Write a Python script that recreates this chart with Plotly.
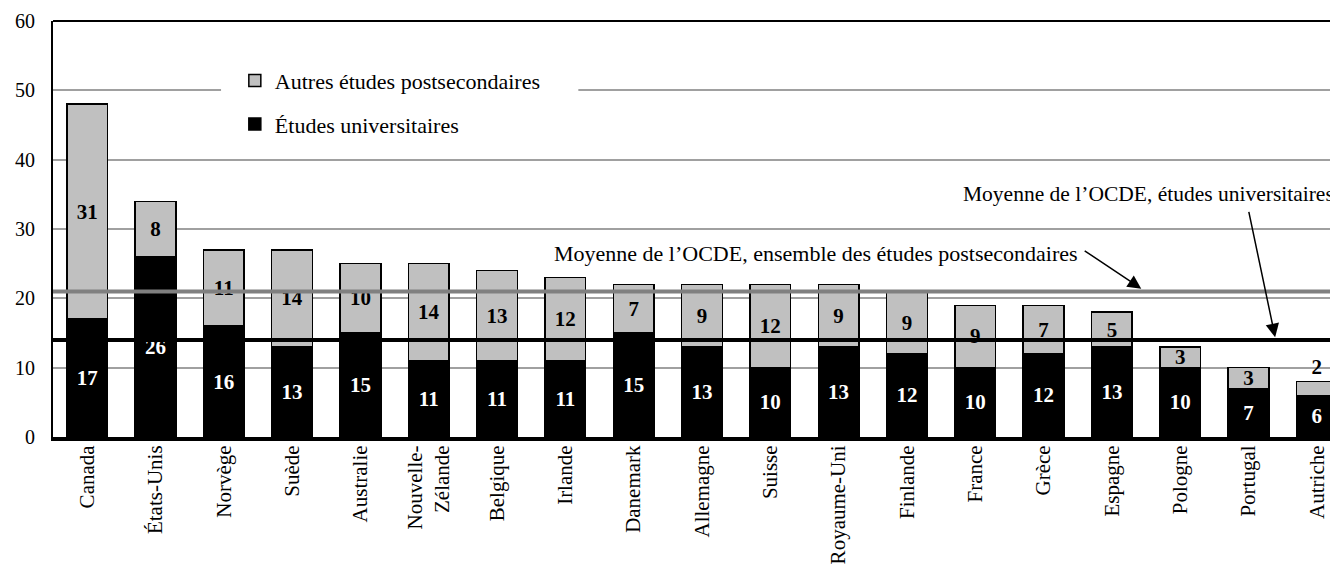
import plotly.graph_objects as go

# Data (percent)
countries = ["Canada", "États-Unis", "Norvège", "Suède", "Australie", "Nouvelle-<br>Zélande",
             "Belgique", "Irlande", "Danemark", "Allemagne", "Suisse", "Royaume-Uni",
             "Finlande", "France", "Grèce", "Espagne", "Pologne", "Portugal", "Autriche"]
univ = [17, 26, 16, 13, 15, 11, 11, 11, 15, 13, 10, 13, 12, 10, 12, 13, 10, 7, 6]
other = [31, 8, 11, 14, 10, 14, 13, 12, 7, 9, 12, 9, 9, 9, 7, 5, 3, 3, 2]
oecd_total = 21
oecd_univ = 14
y_ticks = [0, 10, 20, 30, 40, 50, 60]

SERIF = "Liberation Serif, Times New Roman, serif"

fig = go.Figure()

fig.add_trace(go.Bar(
    name="Études universitaires", x=countries, y=univ,
    marker=dict(color="black", line=dict(color="black", width=1.5)),
    text=[str(v) for v in univ], textposition="inside", insidetextanchor="middle",
    textangle=0,
    textfont=dict(family=SERIF, size=21, color="white", weight="bold"),
    legendgroup="u", legendrank=2, hoverinfo="x+y",
))
fig.add_trace(go.Bar(
    name="Autres études postsecondaires", x=countries, y=other,
    marker=dict(color="#c0c0c0", line=dict(color="black", width=1.5)),
    text=[str(v) for v in other],
    textposition=["inside"] * (len(other) - 1) + ["outside"],
    insidetextanchor="middle", textangle=0,
    textfont=dict(family=SERIF, size=21, color="black", weight="bold"),
    outsidetextfont=dict(family=SERIF, size=21, color="black", weight="bold"),
    legendgroup="a", legendrank=1, hoverinfo="x+y", cliponaxis=False,
))

# white gap behind the legend, OECD average lines, top frame
fig.add_shape(type="rect", xref="x", yref="y", x0=1.96, x1=7.19, y0=45, y1=55,
              fillcolor="white", line_width=0, layer="between")
fig.add_shape(type="line", xref="x domain", yref="y", x0=0, x1=1, y0=oecd_total, y1=oecd_total,
              line=dict(color="#808080", width=4), layer="above")
fig.add_shape(type="line", xref="x domain", yref="y", x0=0, x1=1, y0=oecd_univ, y1=oecd_univ,
              line=dict(color="black", width=4), layer="above")
fig.add_shape(type="line", xref="x domain", yref="y domain", x0=0, x1=1, y0=1, y1=1,
              line=dict(color="black", width=2), layer="above")

fig.add_annotation(text="Moyenne de l’OCDE, ensemble des études postsecondaires",
                   x=14.54, y=26.5, xanchor="right", yanchor="middle", showarrow=False,
                   font=dict(family=SERIF, size=22, color="black"))
fig.add_annotation(text="", x=15.43, y=21.4, ax=14.58, ay=27.0, axref="x", ayref="y",
                   showarrow=True, arrowhead=2, arrowsize=1.8, arrowwidth=1.5,
                   arrowcolor="black", standoff=0)
fig.add_annotation(text="Moyenne de l’OCDE, études universitaires",
                   x=18.28, y=35.0, xanchor="right", yanchor="middle", showarrow=False,
                   font=dict(family=SERIF, size=21.5, color="black"))
fig.add_annotation(text="", x=17.39, y=14.4, ax=17.0, ay=32.7, axref="x", ayref="y",
                   showarrow=True, arrowhead=2, arrowsize=1.8, arrowwidth=1.5,
                   arrowcolor="black", standoff=0)

# the page body has an 8px margin, so the figure is 8px smaller and the margins 8px tighter
fig.update_layout(
    width=1330, height=557,
    margin=dict(l=45, r=0, t=13, b=128, autoexpand=False),
    barmode="stack", bargap=0.404,
    paper_bgcolor="white", plot_bgcolor="white",
    font=dict(family=SERIF, size=20, color="black"),
    showlegend=True,
    legend=dict(x=0.1415, y=0.907, xanchor="left", yanchor="top",
                traceorder="grouped", tracegroupgap=12,
                bgcolor="rgba(0,0,0,0)", font=dict(family=SERIF, size=22)),
    uniformtext=dict(minsize=21, mode="show"),
)
fig.update_xaxes(range=[-0.5, 18.31], showline=True, linecolor="black", linewidth=4,
                 tickangle=-90, tickfont=dict(family=SERIF, size=21), ticks="",
                 ticklabelstandoff=-4, automargin=False,
                 showgrid=False, fixedrange=True)
fig.update_yaxes(range=[0, 60], tickvals=y_ticks, showline=True, linecolor="black", linewidth=2,
                 showgrid=True, gridcolor="#a0a0a0", gridwidth=1.5, zeroline=False,
                 ticks="", ticklabelstandoff=12, automargin=False,
                 tickfont=dict(family=SERIF, size=20))

fig.write_html("out.html")
